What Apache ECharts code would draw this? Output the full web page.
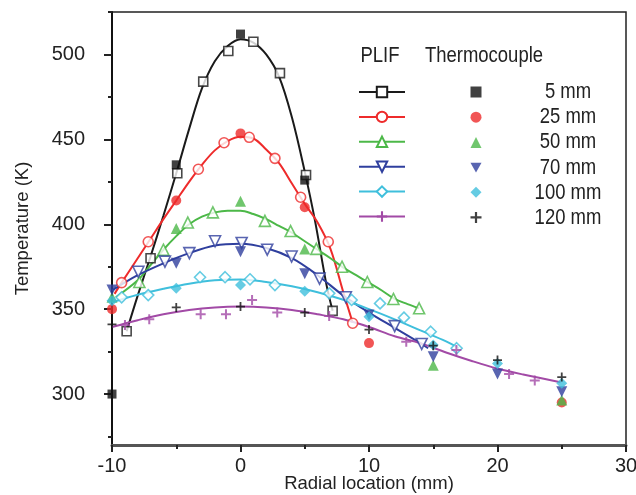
<!DOCTYPE html>
<html>
<head>
<meta charset="utf-8">
<script src="https://cdn.jsdelivr.net/npm/echarts@6/dist/echarts.min.js"></script>
<style>html,body{margin:0;padding:0;background:#fff}#c{width:636px;height:495px}</style>
</head>
<body>
<div id="c"></div>
<script>
// ---- data ----
const seriesLabels = ['5 mm', '25 mm', '50 mm', '70 mm', '100 mm', '120 mm'];
const xTickLabels = [-10, 0, 10, 20, 30];
const yTickLabels = [300, 350, 400, 450, 500];
const yMinorTicks = [275, 325, 375, 425, 475, 525];

// PLIF measurements (open symbols)
const plif5 = [[-8.86,337],[-7,380],[-4.92,430],[-2.9,484],[-0.95,502],[1.0,507.5],[3.07,489],[5.1,429],[7.17,349]];
const plif25 = [[-9.25,365.6],[-7.18,389.7],[-3.28,432.4],[-1.28,448],[0.68,451.2],[2.68,438.8],[4.68,415.9],[6.83,389.7],[8.73,341.7]];
const plif50 = [[-7.87,366],[-6,385],[-4.1,401],[-2.15,407],[1.9,402],[3.9,396],[5.9,385.5],[7.9,375],[9.87,366],[11.9,356],[13.9,350.5]];
const plif70 = [[-7.95,372],[-5.88,378],[-3.98,383],[-1.98,390],[0.09,389],[2.08,385],[3.98,381],[6.15,368],[8.2,357],[12,340],[14.1,329.5]];
const plif100 = [[-9.25,357],[-7.18,358.3],[-3.15,368.8],[-1.2,368.8],[0.74,367.6],[2.68,364.2],[6.91,359.3],[8.65,355.4],[10.86,353.4],[12.72,345],[14.8,336.7],[16.82,327]];
const plif120 = [[-8.99,340.7],[-7.1,344],[-3.1,347],[-1.13,347],[0.9,355.4],[2.86,348],[6.9,346],[12.9,330.8],[16.8,326],[20.9,311.8],[22.9,308]];

// Thermocouple measurements (filled symbols)
const tc5 = [[-10,300],[-5,435],[0,512],[5,426]];
const tc25 = [[-10,350],[-5,414],[0,453.5],[5,410],[10,330],[25,295]];
const tc50 = [[-10,357],[-5,397.5],[0,413.5],[5,385.5],[15,317],[25,296.5]];
const tc70 = [[-10,361.3],[-5,377],[0,383.8],[5,370.8],[10,346.6],[15,322],[20,311.8],[25,301.4]];
const tc100 = [[-10,355],[-5,362.3],[0,364.2],[5,360.5],[10,345.6],[15,328.9],[20,318],[25,306.3]];
const tc120 = [[-10,341],[-5,351],[0,351.5],[5,348],[10,338],[15,328.5],[20,320],[25,310]];

// Fitted curves
const fit5 = [[-8.86,337],[-8,358],[-7,381],[-6,405],[-5,430],[-4,456],[-3,480],[-2,496],[-1,505],[0,509],[1,507],[2,500],[3,487],[4,463],[5,431],[5.8,402],[6.7,364],[7.17,349]];
const fit25 = [[-9.8,359],[-9.25,365.6],[-8,380],[-7,391.5],[-6,403],[-5,414],[-4,425],[-3,435],[-2,443.5],[-1,449],[0,451.5],[1,450.5],[2,444],[3,436],[4,424],[5,412],[6,401],[7,385.5],[8,360],[8.73,342]];
const fit50 = [[-9.7,357],[-8,367],[-7,376],[-6,385],[-5,393],[-4,400],[-3,404.5],[-2,407],[-1,408],[0,408],[1,406],[2,403],[3,399],[4,395],[5,390],[6,385],[7,380],[8,374.5],[9,370],[10,365.5],[11,361],[12,356],[13,353],[13.9,350.5]];
const fit70 = [[-10,361],[-8,370],[-6,377],[-4,383],[-2,387.5],[0,388.5],[2,386],[4,380],[6,370],[8,358],[10,348],[12,339],[14,330],[14.6,327]];
const fit100 = [[-10,354],[-8,358.5],[-6,362],[-4,365],[-2,367],[0,367.5],[2,366],[4,363.5],[6,360],[8,355.5],[10,350],[12,344],[14,337.5],[16,331],[17,327]];
const fit120 = [[-10,339.5],[-8,343.5],[-6,347],[-4,349.5],[-2,351],[0,351.5],[2,351],[4,349.5],[6,347],[8,344],[10,339.5],[12,334],[14,330],[16,324.5],[18,319.5],[20,315],[22,311.5],[24.9,307]];

const plifSets = [plif5, plif25, plif50, plif70, plif100, plif120];
const tcSets = [tc5, tc25, tc50, tc70, tc100, tc120];
const fitSets = [fit5, fit25, fit50, fit70, fit100, fit120];

// ---- styles ----
const colors = ['#1a1a1a', '#ee2b2b', '#4cb848', '#2f3f9e', '#3fbfdc', '#a24aa6'];
const tcColors = ['#111111', '#ee2b2b', '#4cb848', '#2f3f9e', '#3fbfdc', '#111111'];
const PLUS = 'path://M4,0h2v4h4v2h-4v4h-2v-4h-4v-2h4z';
const DOWN_TRI = 'path://M0,0L10,0L5,9Z';
const symbols = ['rect', 'circle', 'triangle', 'triangle', 'diamond', PLUS];
const legendIcons = ['rect', 'circle', 'triangle', DOWN_TRI, 'diamond', PLUS];
const rotates = [0, 0, 0, 180, 0, 0];
const plifSizes = [9, 10, 11, 11, 11, 10];
const tcSizes = [9, 10, 11, 11, 11, 9];
const FONT = "'Liberation Sans', Arial, sans-serif";
const TXT = '#222';

const series = [];
const fitNames = [], tcLegend = [];
fitSets.forEach((d, i) => {
  const isPlus = i === 5;
  const name = 'PLIF ' + seriesLabels[i];
  fitNames.push(name);
  series.push({
    name, type: 'line', data: d, smooth: 0.35, showSymbol: false,
    symbol: symbols[i], symbolRotate: rotates[i], symbolSize: plifSizes[i],
    lineStyle: { color: colors[i], width: 2 },
    itemStyle: isPlus ? { color: colors[i] } : { color: '#fff', borderColor: colors[i], borderWidth: 1.6 },
    z: 2, silent: true
  });
});
plifSets.forEach((d, i) => {
  const isPlus = i === 5;
  series.push({
    name: 'PLIF pts ' + seriesLabels[i], type: 'scatter', data: d,
    symbol: symbols[i], symbolRotate: rotates[i], symbolSize: plifSizes[i],
    itemStyle: isPlus ? { color: colors[i] } : { color: '#fff', borderColor: colors[i], borderWidth: 1.6 },
    z: 3, silent: true
  });
});
tcSets.forEach((d, i) => {
  const name = 'TC ' + seriesLabels[i];
  tcLegend.push({ name, icon: legendIcons[i] });
  series.push({
    name, type: 'scatter', data: d,
    symbol: symbols[i], symbolRotate: rotates[i], symbolSize: tcSizes[i],
    itemStyle: { color: tcColors[i] },
    z: 4, silent: true
  });
});

const rowTop = 85.5, rowPitch = 25.2;
const legendFont = "22px " + FONT;
const graphics = [
  { type: 'text', x: 380, y: 55.6, scaleX: 0.84, style: { text: 'PLIF', font: legendFont, fill: TXT, align: 'center', verticalAlign: 'middle' } },
  { type: 'text', x: 484, y: 55.6, scaleX: 0.84, style: { text: 'Thermocouple', font: legendFont, fill: TXT, align: 'center', verticalAlign: 'middle' } }
];
seriesLabels.forEach((t, i) => {
  graphics.push({ type: 'text', x: 568, y: rowTop + 6.5 + i * rowPitch, scaleX: 0.84,
    style: { text: t, font: legendFont, fill: TXT, align: 'center', verticalAlign: 'middle' } });
});

const option = {
  animation: false,
  grid: { left: 112, right: 10, top: 12, bottom: 50, outerBoundsMode: 'none', containLabel: false,
    show: true, borderColor: '#222', borderWidth: 1.5, backgroundColor: 'transparent' },
  xAxis: {
    type: 'value', min: -10, max: 30, interval: 10,
    name: 'Radial location (mm)', nameLocation: 'middle', nameGap: 29, nameMoveOverlap: false,
    nameTextStyle: { fontFamily: FONT, fontSize: 18.5, color: TXT },
    axisLine: { show: true, onZero: false, lineStyle: { color: '#555', width: 3 } },
    axisTick: { show: true, length: 7, lineStyle: { color: '#222', width: 2 } },
    minorTick: { show: true, splitNumber: 2, length: 4, lineStyle: { color: '#222', width: 2 } },
    axisLabel: { fontFamily: FONT, fontSize: 20, color: TXT, margin: 11, formatter: v => xTickLabels.includes(v) ? String(v) : '' },
    splitLine: { show: false }
  },
  yAxis: [{
    type: 'value', min: 270, max: 525,
    name: 'Temperature (K)', nameLocation: 'middle', nameGap: 80, nameMoveOverlap: false,
    nameTextStyle: { fontFamily: FONT, fontSize: 18.5, color: TXT },
    axisLine: { show: true, onZero: false, lineStyle: { color: '#111', width: 2 } },
    axisTick: { show: true, length: 8, customValues: yTickLabels, lineStyle: { color: '#222', width: 2 } },
    axisLabel: { fontFamily: FONT, fontSize: 20, color: TXT, margin: 27, customValues: yTickLabels },
    splitLine: { show: false }
  }, {
    type: 'value', min: 270, max: 525, position: 'left',
    axisLine: { show: false, onZero: false },
    axisTick: { show: true, length: 4, customValues: yMinorTicks, lineStyle: { color: '#222', width: 2 } },
    axisLabel: { show: false },
    splitLine: { show: false }
  }],
  legend: [{
    data: fitNames, orient: 'vertical', left: 358, top: rowTop, padding: 0,
    itemWidth: 46, itemHeight: 13, itemGap: rowPitch - 13,
    formatter: () => '', textStyle: { fontSize: 10 }, selectedMode: false
  }, {
    data: tcLegend, orient: 'vertical', left: 470.5, top: rowTop + 1, padding: 0,
    itemWidth: 11, itemHeight: 11, itemGap: rowPitch - 11,
    formatter: () => '', textStyle: { fontSize: 8 }, selectedMode: false
  }],
  graphic: graphics,
  series
};
const chart = echarts.init(document.getElementById('c'), null, { renderer: 'canvas' });
chart.setOption(option);
</script>
</body>
</html>
